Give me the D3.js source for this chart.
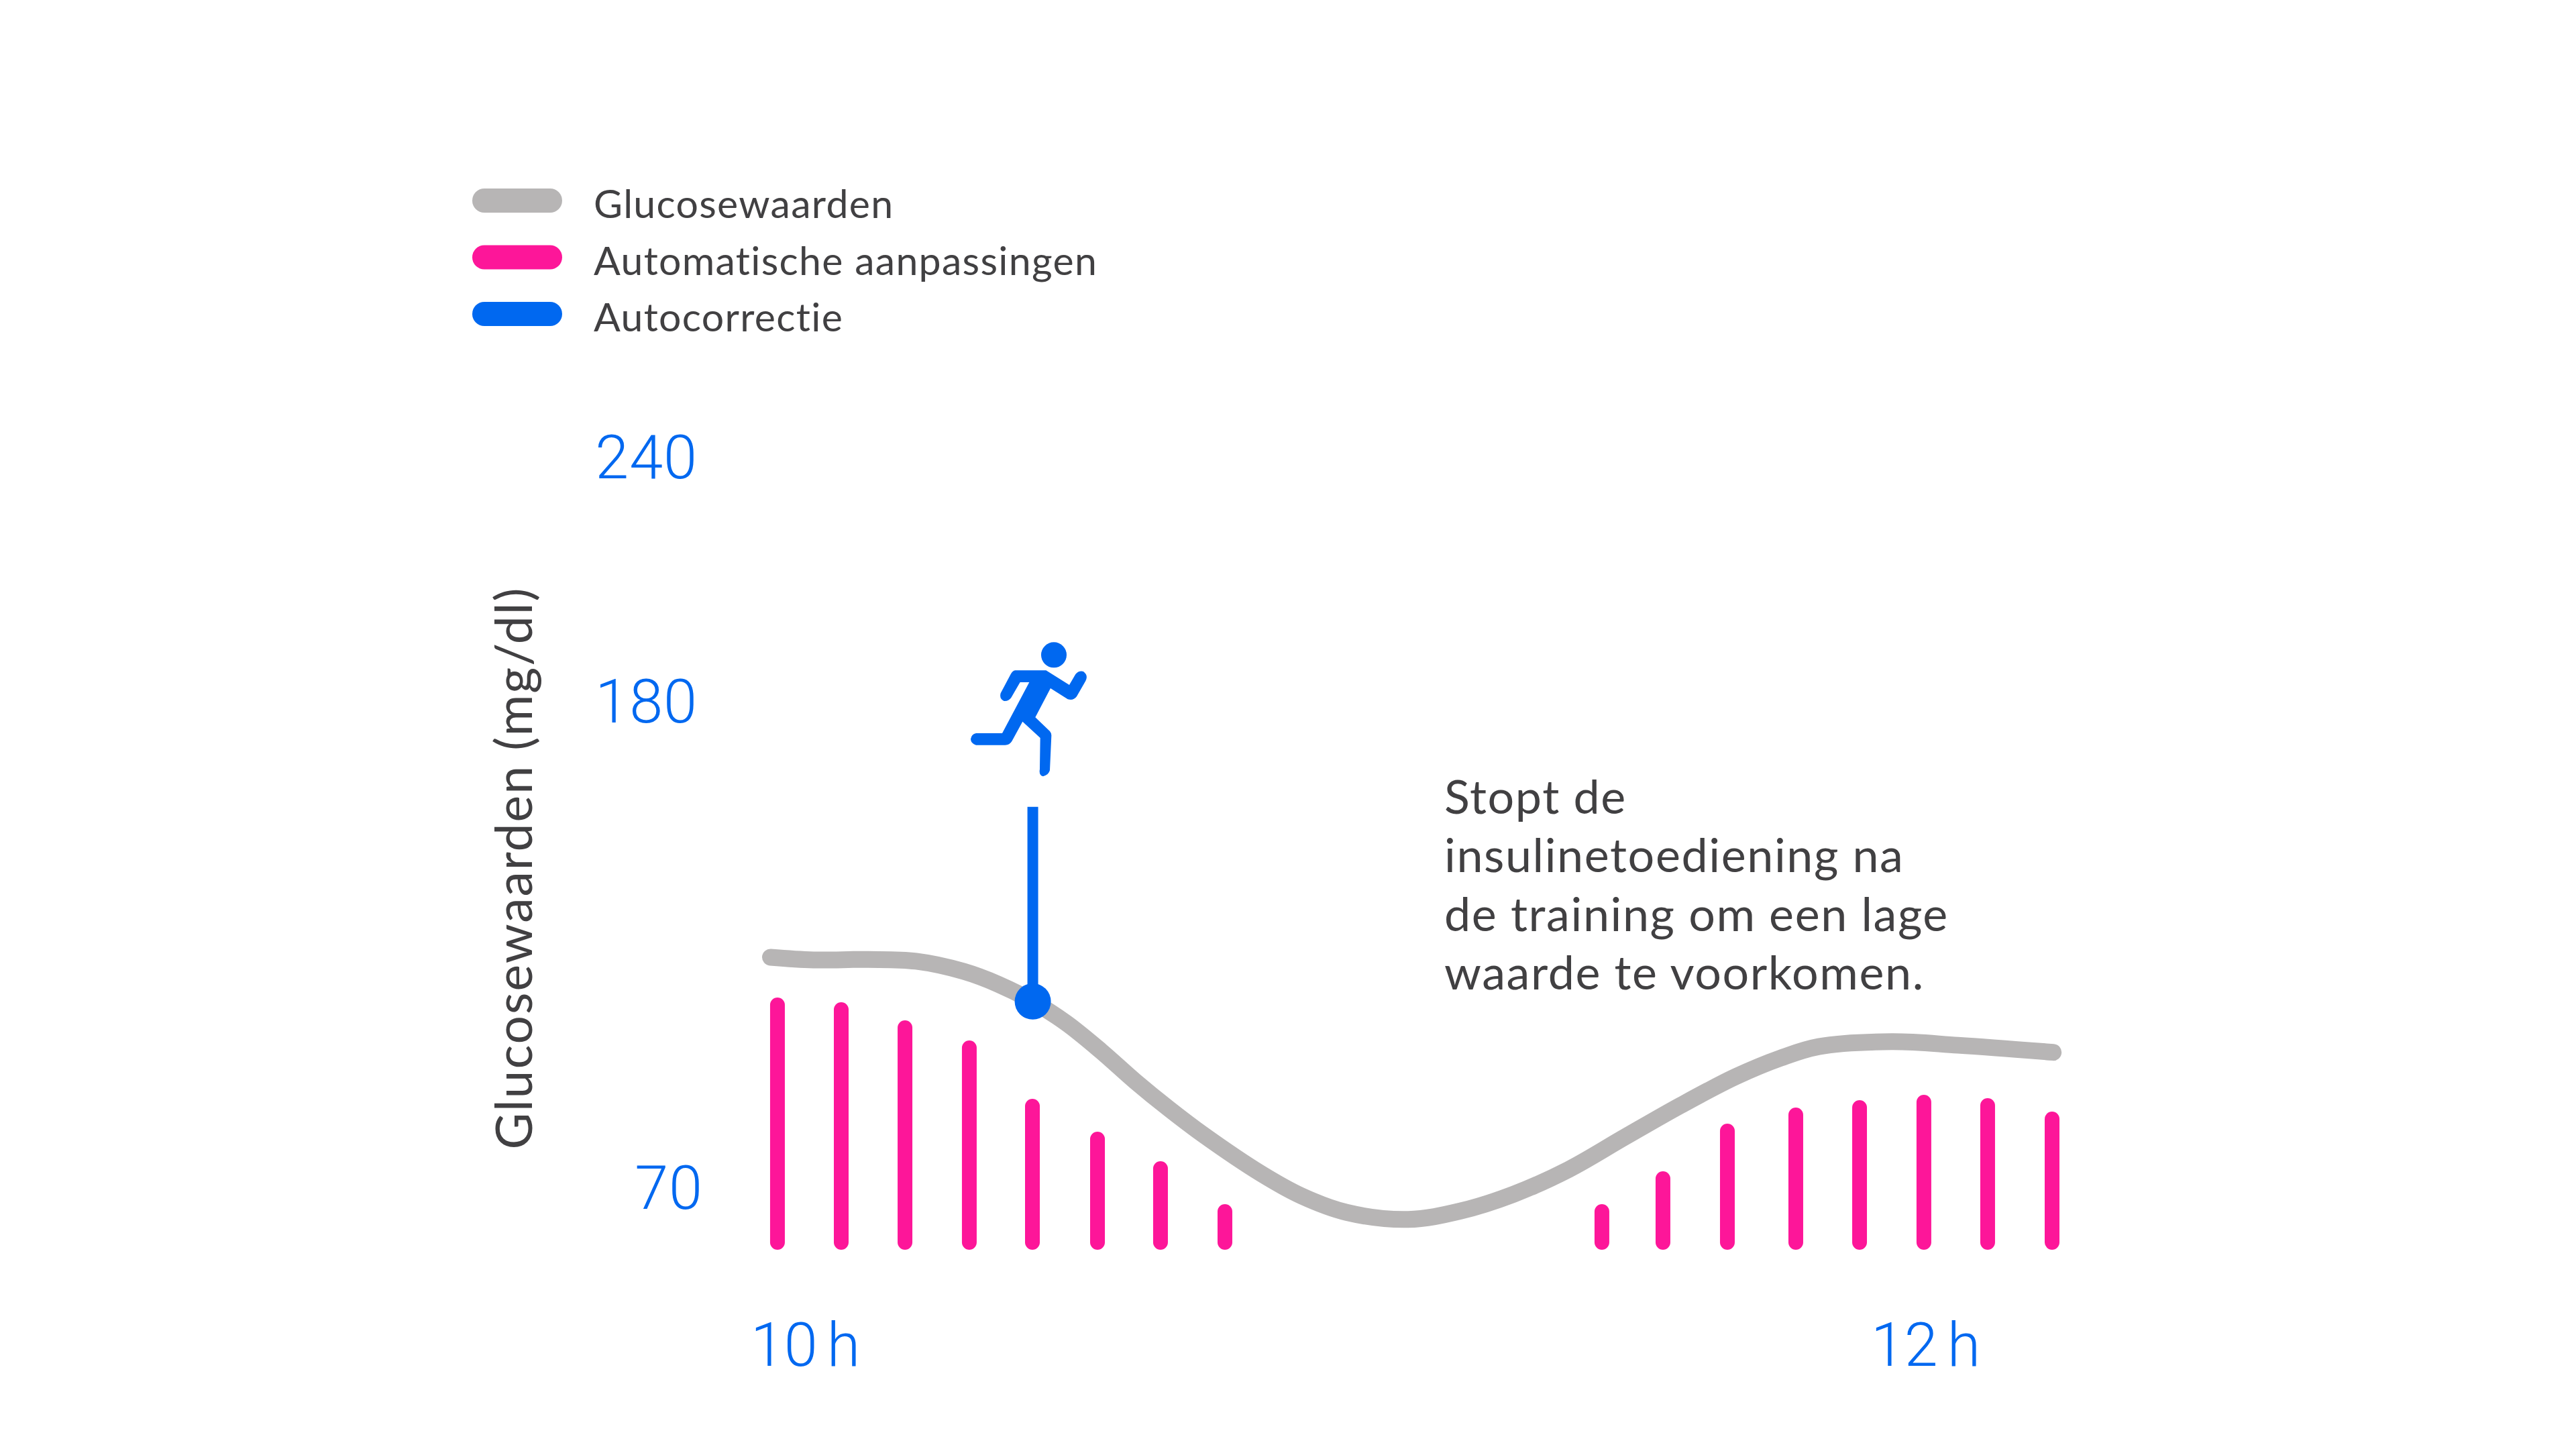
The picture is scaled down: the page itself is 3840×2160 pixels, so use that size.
<!DOCTYPE html>
<html><head><meta charset="utf-8">
<script src="https://cdn.jsdelivr.net/npm/d3@7/dist/d3.min.js"></script>
<style>html,body{margin:0;padding:0;background:#fff}svg{display:block}text{font-variant-ligatures:none}</style>
</head><body><svg id="c" width="3840" height="2160"></svg>
<script>
const legendLabels = ["Glucosewaarden","Automatische aanpassingen","Autocorrectie"];
const yTicks = [70,180,240];
const xTicks = [0,120];
const xTickLabels = ["10 h","12 h"];
const yTitle = "Glucosewaarden (mg/dl)";
const noteLines = ["Stopt de","insulinetoediening na","de training om een lage","waarde te voorkomen."];
const curveMin = [-3.7,0.9,6.8,11.9,17,20.7,24.4,28,31.7,35.4,39,42.7,48.9,53.2,58,64.6,70.2,75.9,81.8,87.8,93.8,99.7,104.5,108.6,116.4,123.5,133.7];
const curveGlu = [122.2,121.6,121.7,121.3,119,116.1,112.2,107.3,101,94.1,87.9,82,73.2,68.2,64.5,62.9,64.8,68.6,74.2,81.5,88.7,95.2,99.4,102,103.1,102.3,100.7];
const barMin = [-2.95,3.88,10.71,17.6,24.36,31.33,38.08,44.98,85.36,91.9,98.8,106.13,112.96,119.85,126.68,133.58];
const barVal = [376,369,342,312,225,176,132,68,68,117,188,212,223,231,226,206];
const correctionMin = 24.4, correctionGlu = 112.2, correctionTopGlu = 156.2;

const BLUE="#0068f0",PINK="#fd1699",GREY="#b7b5b5",INK="#414042";
const TEXT="Lato, 'Open Sans', sans-serif", NUM="Roboto, sans-serif";
const svg=d3.select("#c");
const x=d3.scaleLinear().domain([0,120]).range([1200,2870]);
const y=d3.scaleLinear().domain([70,180,240]).range([1771,1046,682]);
const yBar=d3.scaleLinear().domain([0,400]).range([1863,1463]);

// legend
const leg=svg.append("g");
[GREY,PINK,BLUE].forEach((col,i)=>{
  const cy=299+i*84.5;
  leg.append("rect").attr("x",704).attr("y",cy-18).attr("width",134).attr("height",36).attr("rx",18).attr("fill",col);
  leg.append("text").attr("x",885).attr("y",cy+26).attr("font-family",TEXT).attr("font-size",59).attr("letter-spacing",1.3).attr("fill",INK).text(legendLabels[i]);
});

// bars
svg.append("g").selectAll("rect").data(barMin).join("rect")
  .attr("x",d=>x(d)-11).attr("width",22).attr("rx",11)
  .attr("y",(d,i)=>yBar(barVal[i])).attr("height",(d,i)=>yBar(0)-yBar(barVal[i]))
  .attr("fill",PINK);

// curve
const pts=curveMin.map((m,i)=>[m,curveGlu[i]]);
svg.append("path").datum(pts).attr("fill","none").attr("stroke",GREY).attr("stroke-width",25).attr("stroke-linecap","round")
  .attr("d",d3.line().x(d=>x(d[0])).y(d=>y(d[1])).curve(d3.curveCatmullRom.alpha(0.5)));

// correction
svg.append("line").attr("x1",x(correctionMin)).attr("x2",x(correctionMin)).attr("y1",y(correctionTopGlu)).attr("y2",y(correctionGlu)).attr("stroke",BLUE).attr("stroke-width",16);
svg.append("circle").attr("cx",x(correctionMin)).attr("cy",y(correctionGlu)).attr("r",27).attr("fill",BLUE);

// runner icon
const icon=svg.append("g").attr("transform","translate(1400,930) scale(0.3333)").attr("fill",BLUE);
icon.append("circle").attr("cx",513).attr("cy",139).attr("r",57);
icon.append("path").attr("d","M340,208 L478,208 L582,273 L610,225 Q625,208 645,213 Q668,230 655,255 L615,325 Q600,345 575,337 L498,288 L430,418 L495,480 Q503,490 502,500 L495,655 Q490,675 465,682 Q445,678 450,650 L452,510 L373,437 L325,525 Q315,542 295,542 L165,542 Q142,535 141,515 Q145,492 165,489 L282,489 L403,261 L362,261 L322,330 Q310,347 290,345 Q268,335 275,310 L320,225 Q328,210 340,208 Z");

// axes
const ya=svg.append("g").attr("transform","translate(1040,2)").call(d3.axisLeft(y).tickValues(yTicks).tickSize(0).tickPadding(0));
ya.select(".domain").remove();
ya.selectAll("text").attr("font-family",NUM).attr("font-weight",300).attr("font-size",90).attr("letter-spacing",1).attr("fill",BLUE).attr("dx",d=>d===70?8:0);
const xa=svg.append("g").attr("transform","translate(0,1972)").call(d3.axisBottom(x).tickValues(xTicks).tickFormat((d,i)=>xTickLabels[i]).tickSize(0).tickPadding(0));
xa.select(".domain").remove();
xa.selectAll("text").attr("font-family",NUM).attr("font-weight",300).attr("font-size",90).attr("word-spacing",-8).attr("fill",BLUE);

// y title
svg.append("text").attr("transform","translate(793,1294) rotate(-90)").attr("text-anchor","middle")
  .attr("font-family",TEXT).attr("font-size",75).attr("letter-spacing",2).attr("fill",INK).text(yTitle);

// note
svg.append("g").selectAll("text").data(noteLines).join("text")
  .attr("x",2153).attr("y",(d,i)=>1213+i*87.3).attr("font-family",TEXT).attr("font-size",70).attr("letter-spacing",1.6).attr("fill",INK).text(d=>d);
</script></body></html>
